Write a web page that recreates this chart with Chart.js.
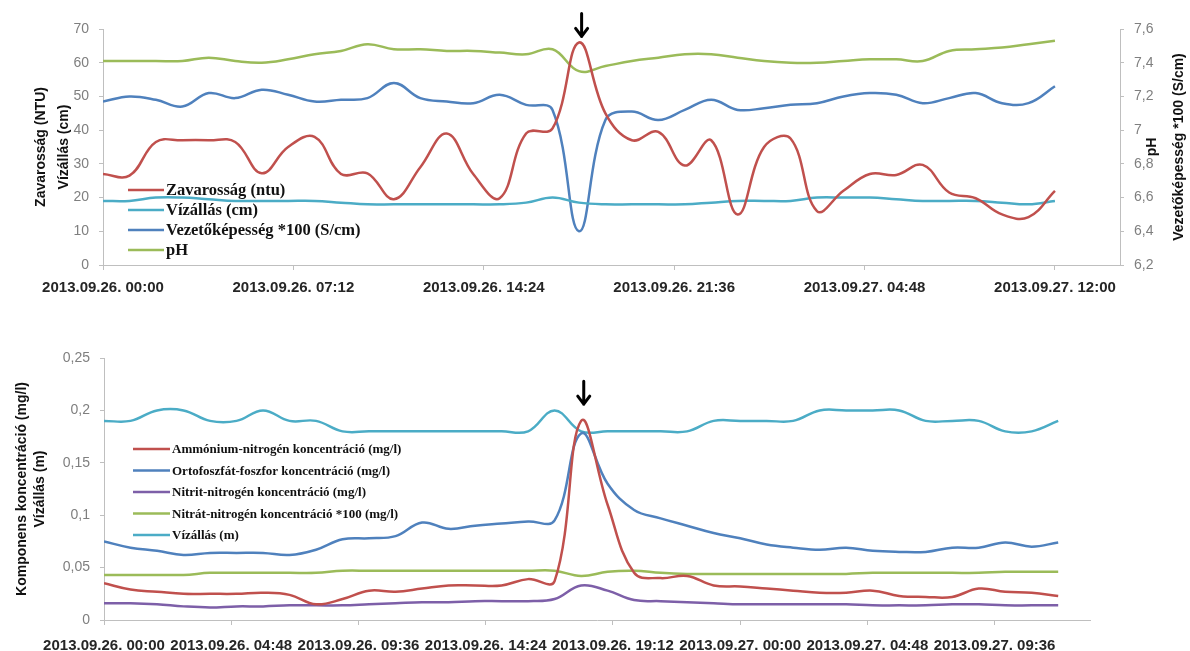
<!DOCTYPE html>
<html>
<head>
<meta charset="utf-8">
<script src="https://cdn.jsdelivr.net/npm/chart.js@4.4.1/dist/chart.umd.min.js"></script>
<style>
  html, body { margin: 0; background: #fff; }
  #top { position: absolute; left: 0; top: 0; width: 1190px; height: 300px; }
  #bottom { position: absolute; left: 0; top: 320px; width: 1190px; height: 331px; }
</style>
</head>
<body>
<div id="top"><canvas id="chartTop"></canvas></div>
<div id="bottom"><canvas id="chartBottom"></canvas></div>
<script>
// hours since 2013.09.26. 00:00
const hours = [0, 1, 2, 3, 4, 5, 6, 7, 8, 9, 10, 11, 12, 13, 14, 15, 16, 17, 18,
               19, 20, 21, 22, 23, 24, 25, 26, 27, 28, 29, 30, 31, 32, 33, 34, 35, 36];

// top chart
const turbidity = [27, 26.5, 36.5, 37, 37, 36.5, 27.2, 35, 38, 27, 27.2, 19.5, 29, 39, 27, 19.8, 39, 40.5, 66,
                   45, 37, 39.5, 29.5, 37, 15, 35, 37.5, 16, 22, 27, 26.7, 29.7, 21.5, 19.8, 15, 14.2, 22];
const waterCm = [19, 19, 20, 20, 19.5, 19, 19, 19, 19, 18.5, 18, 18, 18, 18, 18, 18, 18.5, 20, 18.5,
                 18, 18, 18, 18, 18.5, 19, 19, 19, 20, 20, 20, 19.5, 19, 19, 19, 18.5, 18, 19];
const conductivity = [7.17, 7.20, 7.18, 7.14, 7.22, 7.19, 7.24, 7.21, 7.17, 7.18, 7.19, 7.28, 7.19, 7.17, 7.16, 7.21, 7.15, 7.12, 6.40,
                      7.06, 7.11, 7.06, 7.12, 7.18, 7.12, 7.13, 7.15, 7.16, 7.20, 7.22, 7.21, 7.16, 7.19, 7.22, 7.16, 7.16, 7.26];
const ph = [7.41, 7.41, 7.41, 7.41, 7.43, 7.41, 7.40, 7.42, 7.45, 7.47, 7.51, 7.48, 7.48, 7.47, 7.47, 7.46, 7.45, 7.48, 7.35,
            7.38, 7.41, 7.43, 7.45, 7.45, 7.43, 7.41, 7.40, 7.40, 7.41, 7.42, 7.42, 7.41, 7.47, 7.48, 7.49, 7.51, 7.53];

const topTickHours = [0, 7.2, 14.4, 21.6, 28.8, 36];
const topTickLabels = ['2013.09.26. 00:00', '2013.09.26. 07:12', '2013.09.26. 14:24',
                       '2013.09.26. 21:36', '2013.09.27. 04:48', '2013.09.27. 12:00'];

// bottom chart
const ammonium = [0.035, 0.029, 0.027, 0.025, 0.025, 0.025, 0.026, 0.024, 0.015, 0.02, 0.028, 0.027, 0.03, 0.033, 0.033, 0.033, 0.039, 0.037, 0.19,
                  0.11, 0.045, 0.04, 0.042, 0.033, 0.032, 0.03, 0.028, 0.026, 0.026, 0.028, 0.023, 0.022, 0.022, 0.03, 0.027, 0.026, 0.023];
const orthophosphate = [0.075, 0.069, 0.066, 0.062, 0.064, 0.064, 0.064, 0.062, 0.067, 0.077, 0.078, 0.08, 0.093, 0.087, 0.09, 0.092, 0.094, 0.095, 0.178,
                        0.13, 0.105, 0.097, 0.09, 0.083, 0.078, 0.072, 0.069, 0.067, 0.069, 0.066, 0.065, 0.065, 0.069, 0.069, 0.074, 0.07, 0.074];
const nitrite = [0.016, 0.016, 0.015, 0.013, 0.012, 0.013, 0.013, 0.014, 0.014, 0.014, 0.015, 0.016, 0.017, 0.017, 0.018, 0.018, 0.018, 0.02, 0.033,
                 0.028, 0.019, 0.018, 0.017, 0.016, 0.015, 0.015, 0.015, 0.015, 0.015, 0.014, 0.014, 0.014, 0.015, 0.015, 0.014, 0.014, 0.014];
const nitrate = [0.043, 0.043, 0.043, 0.043, 0.045, 0.045, 0.045, 0.045, 0.045, 0.047, 0.047, 0.047, 0.047, 0.047, 0.047, 0.047, 0.047, 0.047, 0.042,
                 0.046, 0.047, 0.045, 0.044, 0.044, 0.044, 0.044, 0.044, 0.044, 0.044, 0.045, 0.045, 0.045, 0.045, 0.045, 0.046, 0.046, 0.046];
const waterM = [0.19, 0.19, 0.2, 0.2, 0.19, 0.19, 0.2, 0.19, 0.19, 0.18, 0.18, 0.18, 0.18, 0.18, 0.18, 0.18, 0.18, 0.2, 0.18,
                0.18, 0.18, 0.18, 0.18, 0.19, 0.19, 0.19, 0.19, 0.2, 0.2, 0.2, 0.2, 0.19, 0.19, 0.19, 0.18, 0.18, 0.19];

const bottomTickHours = [0, 4.8, 9.6, 14.4, 19.2, 24, 28.8, 33.6];
const bottomTickLabels = ['2013.09.26. 00:00', '2013.09.26. 04:48', '2013.09.26. 09:36', '2013.09.26. 14:24',
                          '2013.09.26. 19:12', '2013.09.27. 00:00', '2013.09.27. 04:48', '2013.09.27. 09:36'];

const RED = '#C0504D', CYAN = '#4BACC6', BLUE = '#4F81BD', GREEN = '#9BBB59', PURPLE = '#7D5FA8';
const AXIS = '#bfbfbf';

Chart.defaults.font.family = '"Liberation Sans", Arial, sans-serif';

// legend drawn inside the plot area, like the Excel original
const insideLegend = {
    id: 'insideLegend',
    afterDraw(chart, args, opts) {
        const { ctx, chartArea } = chart;
        ctx.save();
        ctx.font = opts.font;
        ctx.textBaseline = 'middle';
        chart.data.datasets.forEach((ds, i) => {
            const x = chartArea.left + opts.left;
            const y = chartArea.top + opts.top + i * opts.gap;
            ctx.strokeStyle = ds.borderColor;
            ctx.lineWidth = 2.5;
            ctx.beginPath();
            ctx.moveTo(x, y);
            ctx.lineTo(x + opts.lineLen, y);
            ctx.stroke();
            ctx.fillStyle = '#111';
            ctx.fillText(ds.label, x + opts.lineLen + 2, y + 1);
        });
        ctx.restore();
    }
};

// rotated axis titles (all read bottom to top)
const sideTitles = {
    id: 'sideTitles',
    afterDraw(chart, args, opts) {
        const { ctx, chartArea } = chart;
        const mid = (chartArea.top + chartArea.bottom) / 2;
        ctx.save();
        ctx.font = 'bold 14px "Liberation Sans", Arial, sans-serif';
        ctx.fillStyle = '#111';
        ctx.textAlign = 'center';
        ctx.textBaseline = 'middle';
        opts.items.forEach(t => {
            const x = t.side === 'left' ? chartArea.left - t.dist : chartArea.right + t.dist;
            ctx.save();
            ctx.translate(x, mid);
            ctx.rotate(-Math.PI / 2);
            ctx.fillText(t.text, 0, 0);
            ctx.restore();
        });
        ctx.restore();
    }
};

// black arrow pointing at the event
const eventArrow = {
    id: 'eventArrow',
    afterDraw(chart, args, opts) {
        const ctx = chart.ctx;
        const x = chart.scales.x.getPixelForValue(opts.at);
        const y = chart.scales[opts.axis].getPixelForValue(opts.value);
        ctx.save();
        ctx.strokeStyle = '#000';
        ctx.lineWidth = 3;
        ctx.lineCap = 'round';
        ctx.lineJoin = 'round';
        ctx.beginPath();
        ctx.moveTo(x, y - 24);
        ctx.lineTo(x, y - 1);
        ctx.moveTo(x - 6, y - 9);
        ctx.lineTo(x, y - 1);
        ctx.lineTo(x + 6, y - 9);
        ctx.stroke();
        ctx.restore();
    }
};

function line(label, data, color, axis) {
    return {
        label: label,
        data: data,
        yAxisID: axis || 'y',
        borderColor: color,
        backgroundColor: color,
        borderWidth: 2.5,
        pointRadius: 0,
        tension: 0.4,
        fill: false
    };
}

function xAxis(tickHours, tickLabels, max, height, pad) {
    return {
        type: 'linear',
        min: 0,
        max: max,
        afterBuildTicks: s => { s.ticks = tickHours.map(v => ({ value: v })); },
        afterFit: s => { s.height = height; },
        grid: { drawOnChartArea: false, color: AXIS, tickLength: 5 },
        border: { color: AXIS },
        ticks: {
            autoSkip: false,
            maxRotation: 0,
            padding: pad,
            color: '#262626',
            font: { size: 15, weight: 'bold' },
            callback: v => tickLabels[tickHours.indexOf(v)]
        }
    };
}

function comma(v, d) {
    return String(Math.round(v * d) / d).replace('.', ',');
}

new Chart(document.getElementById('chartTop').getContext('2d'), {
    type: 'line',
    data: {
        labels: hours,
        datasets: [
            line('Zavarosság (ntu)', turbidity, RED),
            line('Vízállás (cm)', waterCm, CYAN),
            line('Vezetőképesség *100 (S/cm)', conductivity, BLUE, 'y1'),
            line('pH', ph, GREEN, 'y1')
        ]
    },
    options: {
        responsive: true,
        maintainAspectRatio: false,
        animation: false,
        layout: { padding: { top: 29, left: 0, right: 0, bottom: 0 } },
        plugins: {
            legend: { display: false },
            tooltip: { enabled: false },
            insideLegend: { left: 25, top: 161, gap: 20, lineLen: 36, font: 'bold 16.5px "Liberation Serif", "Times New Roman", serif' },
            sideTitles: {
                items: [
                    { text: 'Zavarosság (NTU)', side: 'left', dist: 62 },
                    { text: 'Vízállás (cm)', side: 'left', dist: 39 },
                    { text: 'pH', side: 'right', dist: 32 },
                    { text: 'Vezetőképesség *100 (S/cm)', side: 'right', dist: 59 }
                ]
            },
            eventArrow: { at: 18.1, value: 67.5, axis: 'y' }
        },
        scales: {
            x: xAxis(topTickHours, topTickLabels, 38.46, 35, 9),
            y: {
                position: 'left',
                min: 0,
                max: 70,
                afterFit: s => { s.width = 103; },
                grid: { drawOnChartArea: false, color: AXIS, tickLength: 4 },
                border: { color: AXIS },
                ticks: { stepSize: 10, padding: 10, color: '#7f7f7f', font: { size: 14 } }
            },
            y1: {
                position: 'right',
                min: 6.2,
                max: 7.6,
                afterFit: s => { s.width = 70; },
                grid: { drawOnChartArea: false, color: AXIS, tickLength: 4 },
                border: { color: AXIS },
                ticks: { stepSize: 0.2, padding: 10, color: '#7f7f7f', font: { size: 14 }, callback: v => comma(v, 10) }
            }
        }
    },
    plugins: [insideLegend, sideTitles, eventArrow]
});

new Chart(document.getElementById('chartBottom').getContext('2d'), {
    type: 'line',
    data: {
        labels: hours,
        datasets: [
            line('Ammónium-nitrogén koncentráció (mg/l)', ammonium, RED),
            line('Ortofoszfát-foszfor koncentráció (mg/l)', orthophosphate, BLUE),
            line('Nitrit-nitrogén koncentráció (mg/l)', nitrite, PURPLE),
            line('Nitrát-nitrogén koncentráció *100 (mg/l)', nitrate, GREEN),
            line('Vízállás (m)', waterM, CYAN)
        ]
    },
    options: {
        responsive: true,
        maintainAspectRatio: false,
        animation: false,
        layout: { padding: { top: 38, left: 0, right: 100, bottom: 0 } },
        plugins: {
            legend: { display: false },
            tooltip: { enabled: false },
            insideLegend: { left: 29, top: 91, gap: 21.5, lineLen: 37, font: 'bold 13px "Liberation Serif", "Times New Roman", serif' },
            sideTitles: {
                items: [
                    { text: 'Komponens koncentráció (mg/l)', side: 'left', dist: 82 },
                    { text: 'Vízállás (m)', side: 'left', dist: 64 }
                ]
            },
            eventArrow: { at: 18.1, value: 0.205, axis: 'y' }
        },
        scales: {
            x: xAxis(bottomTickHours, bottomTickLabels, 37.2, 31, 12),
            y: {
                position: 'left',
                min: 0,
                max: 0.25,
                afterFit: s => { s.width = 104; },
                grid: { drawOnChartArea: false, color: AXIS, tickLength: 4 },
                border: { color: AXIS },
                ticks: { stepSize: 0.05, padding: 10, color: '#7f7f7f', font: { size: 14 }, callback: v => comma(v, 100) }
            }
        }
    },
    plugins: [insideLegend, sideTitles, eventArrow]
});
</script>
</body>
</html>
